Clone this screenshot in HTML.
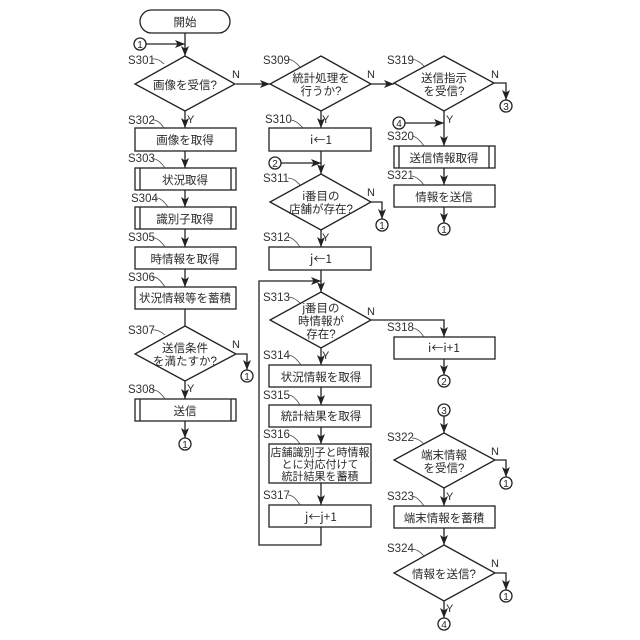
<!DOCTYPE html>
<html><head><meta charset="utf-8"><style>
html,body{margin:0;padding:0;background:#fff}
svg{display:block}
text{font-family:"Liberation Sans","Noto Sans CJK JP",sans-serif;fill:#2a2a2a}
.t{font-size:11.5px;text-anchor:middle}
.u{font-size:11px;text-anchor:middle}
.r{font-family:"Noto Sans CJK JP",sans-serif;font-size:12px;text-anchor:middle}
.s{font-size:11.5px;fill:#333}
.n{font-size:11px}
.c{font-size:10px;text-anchor:middle}
.o{fill:#fff;stroke:#222;stroke-width:1.3}
.l{fill:none;stroke:#222;stroke-width:1.3}
.w{fill:none;stroke:#444;stroke-width:.8}
</style></head><body>
<svg width="640" height="640" viewBox="0 0 640 640" xmlns="http://www.w3.org/2000/svg">
<defs><marker id="a" viewBox="0 0 10 10" refX="10" refY="5" markerWidth="10" markerHeight="10" markerUnits="userSpaceOnUse" orient="auto"><path d="M0 1 L10 5 L0 9 L2.5 5 Z" fill="#222"/></marker></defs>

<!-- connectors column 1 -->
<g class="l">
<path d="M185 33V56" marker-end="url(#a)"/>
<path d="M146 44H185" marker-end="url(#a)"/>
<path d="M185 111V128" marker-end="url(#a)"/>
<path d="M185 151V168" marker-end="url(#a)"/>
<path d="M185 190V207" marker-end="url(#a)"/>
<path d="M185 229V247" marker-end="url(#a)"/>
<path d="M185 269V287" marker-end="url(#a)"/>
<path d="M185 309V326"/>
<path d="M185 381V399" marker-end="url(#a)"/>
<path d="M185 421V438" marker-end="url(#a)"/>
<path d="M236 354H247V370" marker-end="url(#a)"/>
<path d="M236 84H270" marker-end="url(#a)"/>
<!-- column 2 -->
<path d="M371 84H394" marker-end="url(#a)"/>
<path d="M321 111V128" marker-end="url(#a)"/>
<path d="M321 151V174" marker-end="url(#a)"/>
<path d="M281 163H321" marker-end="url(#a)"/>
<path d="M321 230V247" marker-end="url(#a)"/>
<path d="M371 202H382V219" marker-end="url(#a)"/>
<path d="M321 270V292" marker-end="url(#a)"/>
<path d="M321 527V545H259V281H321" marker-end="url(#a)"/>
<path d="M321 348V365" marker-end="url(#a)"/>
<path d="M321 387V405" marker-end="url(#a)"/>
<path d="M321 427V444" marker-end="url(#a)"/>
<path d="M321 483V505" marker-end="url(#a)"/>
<path d="M371 320H444V337" marker-end="url(#a)"/>
<!-- column 3 -->
<path d="M494 83H506V100" marker-end="url(#a)"/>
<path d="M444 111V146" marker-end="url(#a)"/>
<path d="M405 123H444" marker-end="url(#a)"/>
<path d="M444 168V185" marker-end="url(#a)"/>
<path d="M444 207V223" marker-end="url(#a)"/>
<path d="M444 359V375" marker-end="url(#a)"/>
<path d="M444 416V433" marker-end="url(#a)"/>
<path d="M495 460H506V477" marker-end="url(#a)"/>
<path d="M444 488V506" marker-end="url(#a)"/>
<path d="M444 528V545" marker-end="url(#a)"/>
<path d="M495 573H506V590" marker-end="url(#a)"/>
<path d="M444 601V618" marker-end="url(#a)"/>
</g>

<!-- shapes -->
<rect class="o" x="140" y="10" width="90" height="23" rx="11.5"/>
<polygon class="o" points="185,56 235,84 185,111 135,84"/>
<rect class="o" x="135" y="128" width="101" height="23"/>
<rect class="o" x="135" y="168" width="101" height="22"/><path class="l" d="M140 168V190M231 168V190"/>
<rect class="o" x="135" y="207" width="101" height="22"/><path class="l" d="M140 207V229M231 207V229"/>
<rect class="o" x="135" y="247" width="101" height="22"/>
<rect class="o" x="135" y="287" width="101" height="22"/>
<polygon class="o" points="185,326 236,354 185,381 135,354"/>
<rect class="o" x="135" y="399" width="101" height="22"/><path class="l" d="M140 399V421M231 399V421"/>

<polygon class="o" points="321,56 371,84 321,111 270,84"/>
<rect class="o" x="269" y="128" width="102" height="23"/>
<polygon class="o" points="321,174 371,202 321,230 270,202"/>
<rect class="o" x="269" y="247" width="102" height="23"/>
<polygon class="o" points="321,292 371,320 321,348 270,320"/>
<rect class="o" x="269" y="365" width="102" height="22"/>
<rect class="o" x="269" y="405" width="102" height="22"/>
<rect class="o" x="269" y="444" width="102" height="39"/>
<rect class="o" x="269" y="505" width="102" height="22"/>

<polygon class="o" points="444,56 494,83 444,111 394,83"/>
<rect class="o" x="394" y="146" width="101" height="22"/><path class="l" d="M399 146V168M489 146V168"/>
<rect class="o" x="394" y="185" width="101" height="22"/>
<rect class="o" x="394" y="337" width="101" height="22"/>
<polygon class="o" points="444,433 495,460 444,488 394,460"/>
<rect class="o" x="394" y="506" width="101" height="22"/>
<polygon class="o" points="444,545 495,573 444,601 394,573"/>

<!-- node text -->
<text class="t" x="185" y="26">開始</text>
<text class="t" x="185" y="89">画像を受信?</text>
<text class="t" x="185" y="144">画像を取得</text>
<text class="t" x="185" y="184">状況取得</text>
<text class="t" x="185" y="223">識別子取得</text>
<text class="t" x="185" y="263">時情報を取得</text>
<text class="t" x="185" y="302">状況情報等を蓄積</text>
<text class="t" x="185" y="352">送信条件</text>
<text class="t" x="185" y="365">を満たすか?</text>
<text class="t" x="185" y="415">送信</text>

<text class="t" x="321" y="82">統計処理を</text>
<text class="t" x="321" y="95">行うか?</text>
<text class="r" x="321" y="144">i←1</text>
<text class="t" x="321" y="200">i番目の</text>
<text class="t" x="321" y="213">店舗が存在?</text>
<text class="r" x="321" y="263">j←1</text>
<text class="t" x="321" y="312">j番目の</text>
<text class="t" x="321" y="325">時情報が</text>
<text class="t" x="321" y="338">存在?</text>
<text class="t" x="321" y="381">状況情報を取得</text>
<text class="t" x="321" y="420">統計結果を取得</text>
<text class="u" x="320" y="456">店舗識別子と時情報</text>
<text class="u" x="320" y="468">とに対応付けて</text>
<text class="u" x="320" y="480">統計結果を蓄積</text>
<text class="r" x="321" y="521">j←j+1</text>

<text class="t" x="444" y="82">送信指示</text>
<text class="t" x="444" y="95">を受信?</text>
<text class="t" x="444" y="162">送信情報取得</text>
<text class="t" x="444" y="201">情報を送信</text>
<text class="r" x="444" y="352">i←i+1</text>
<text class="t" x="444" y="459">端末情報</text>
<text class="t" x="444" y="472">を受信?</text>
<text class="t" x="444" y="522">端末情報を蓄積</text>
<text class="t" x="444" y="578">情報を送信?</text>

<!-- step labels -->
<text class="s" x="128" y="64">S301</text>
<text class="s" x="128" y="124">S302</text>
<text class="s" x="128" y="162">S303</text>
<text class="s" x="131" y="202">S304</text>
<text class="s" x="128" y="241">S305</text>
<text class="s" x="128" y="281">S306</text>
<text class="s" x="128" y="334">S307</text>
<text class="s" x="128" y="393">S308</text>
<text class="s" x="263" y="64">S309</text>
<text class="s" x="265" y="123">S310</text>
<text class="s" x="263" y="182">S311</text>
<text class="s" x="263" y="241">S312</text>
<text class="s" x="263" y="301">S313</text>
<text class="s" x="263" y="359">S314</text>
<text class="s" x="263" y="399">S315</text>
<text class="s" x="263" y="438">S316</text>
<text class="s" x="263" y="499">S317</text>
<text class="s" x="387" y="331">S318</text>
<text class="s" x="387" y="64">S319</text>
<text class="s" x="387" y="140">S320</text>
<text class="s" x="387" y="179">S321</text>
<text class="s" x="387" y="441">S322</text>
<text class="s" x="387" y="500">S323</text>
<text class="s" x="387" y="552">S324</text>

<!-- leaders -->
<g class="w">
<path d="M152 59Q158 58 164 64"/>
<path d="M152 120Q158 119 164 128"/>
<path d="M152 159Q158 158 165 168"/>
<path d="M155 198Q161 197 168 207"/>
<path d="M152 238Q158 237 165 247"/>
<path d="M152 277Q158 276 165 287"/>
<path d="M152 330Q158 329 165 335"/>
<path d="M152 390Q158 389 165 399"/>
<path d="M288 59Q294 60 300 67"/>
<path d="M290 120Q296 120 303 128"/>
<path d="M288 178Q294 178 300 185"/>
<path d="M288 237Q294 238 300 247"/>
<path d="M288 297Q294 297 300 303"/>
<path d="M288 355Q294 355 301 365"/>
<path d="M288 395Q294 395 300 405"/>
<path d="M288 435Q294 435 300 444"/>
<path d="M288 495Q294 495 300 505"/>
<path d="M412 328Q418 328 424 337"/>
<path d="M412 59Q418 60 424 66"/>
<path d="M412 136Q418 137 424 146"/>
<path d="M412 176Q418 177 424 185"/>
<path d="M412 438Q418 438 424 444"/>
<path d="M412 496Q418 497 424 506"/>
<path d="M412 549Q418 549 424 556"/>
</g>

<!-- Y/N -->
<text class="n" x="232" y="78">N</text>
<text class="n" x="187" y="123">Y</text>
<text class="n" x="232" y="348">N</text>
<text class="n" x="187" y="392">Y</text>
<text class="n" x="367" y="78">N</text>
<text class="n" x="322" y="123">Y</text>
<text class="n" x="367" y="196">N</text>
<text class="n" x="322" y="241">Y</text>
<text class="n" x="367" y="315">N</text>
<text class="n" x="322" y="359">Y</text>
<text class="n" x="491" y="78">N</text>
<text class="n" x="446" y="123">Y</text>
<text class="n" x="491" y="455">N</text>
<text class="n" x="446" y="500">Y</text>
<text class="n" x="491" y="567">N</text>
<text class="n" x="446" y="612">Y</text>

<!-- connectors circles -->
<g>
<circle class="o" cx="140" cy="44" r="6"/><text class="c" x="140" y="48">1</text>
<circle class="o" cx="247" cy="376" r="6"/><text class="c" x="247" y="380">1</text>
<circle class="o" cx="185" cy="444" r="6"/><text class="c" x="185" y="448">1</text>
<circle class="o" cx="275" cy="163" r="6"/><text class="c" x="275" y="167">2</text>
<circle class="o" cx="382" cy="225" r="6"/><text class="c" x="382" y="229">1</text>
<circle class="o" cx="506" cy="106" r="6"/><text class="c" x="506" y="110">3</text>
<circle class="o" cx="399" cy="123" r="6"/><text class="c" x="399" y="127">4</text>
<circle class="o" cx="444" cy="229" r="6"/><text class="c" x="444" y="233">1</text>
<circle class="o" cx="444" cy="381" r="6"/><text class="c" x="444" y="385">2</text>
<circle class="o" cx="444" cy="410" r="6"/><text class="c" x="444" y="414">3</text>
<circle class="o" cx="506" cy="483" r="6"/><text class="c" x="506" y="487">1</text>
<circle class="o" cx="506" cy="596" r="6"/><text class="c" x="506" y="600">1</text>
<circle class="o" cx="444" cy="624" r="6"/><text class="c" x="444" y="628">4</text>
</g>
</svg>
</body></html>
